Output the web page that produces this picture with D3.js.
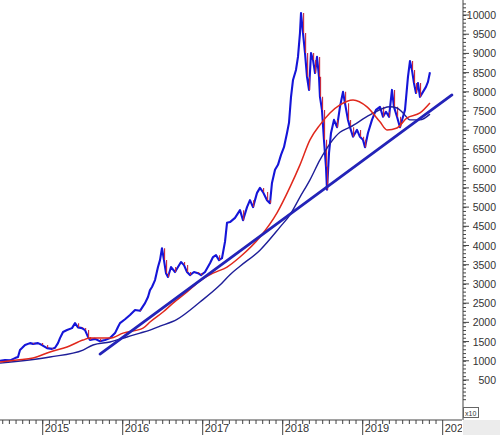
<!DOCTYPE html>
<html>
<head>
<meta charset="UTF-8">
<script src="https://cdn.jsdelivr.net/npm/d3@7"></script>
<style>
  body { margin: 0; background: #fff; }
  svg { display: block; font-family: Arial, "Liberation Sans", sans-serif; }
</style>
</head>
<body>
<div id="chart"></div>
<script>
// price, time as decimal year
var priceT = [2014.466,2014.529,2014.591,2014.654,2014.691,2014.716,2014.741,2014.779,2014.841,2014.879,
  2014.941,2014.991,2015.054,2015.116,2015.154,2015.191,2015.216,2015.254,2015.304,2015.366,
  2015.404,2015.441,2015.491,2015.529,2015.566,2015.591,2015.654,2015.716,2015.779,2015.841,
  2015.904,2015.941,2015.966,2016.029,2016.091,2016.154,2016.216,2016.279,2016.316,2016.341,
  2016.366,2016.404,2016.441,2016.466,2016.491,2016.516,2016.541,2016.566,2016.604,2016.654,
  2016.691,2016.729,2016.766,2016.804,2016.841,2016.891,2016.941,2016.979,2017.029,2017.091,
  2017.129,2017.166,2017.204,2017.241,2017.279,2017.304,2017.341,2017.404,2017.466,2017.504,
  2017.554,2017.591,2017.629,2017.679,2017.716,2017.754,2017.804,2017.841,2017.866,2017.904,
  2017.941,2017.979,2018.016,2018.054,2018.079,2018.104,2018.129,2018.166,2018.191,2018.216,
  2018.229,2018.254,2018.279,2018.304,2018.329,2018.354,2018.379,2018.404,2018.429,2018.454,
  2018.466,2018.491,2018.516,2018.541,2018.554,2018.579,2018.604,2018.641,2018.679,2018.716,
  2018.754,2018.779,2018.816,2018.841,2018.879,2018.929,2018.966,2019.004,2019.029,2019.066,
  2019.116,2019.166,2019.216,2019.254,2019.291,2019.329,2019.366,2019.391,2019.429,2019.466,
  2019.504,2019.529,2019.566,2019.591,2019.616,2019.641,2019.666,2019.691,2019.716,2019.754,
  2019.791,2019.816,2019.841];
var priceV = [1000,1020,1010,1070,1100,1280,1330,1410,1460,1440,
  1460,1410,1330,1310,1340,1460,1590,1750,1800,1850,
  1980,1870,1850,1800,1620,1540,1570,1510,1540,1590,
  1720,1880,1980,2080,2190,2320,2300,2500,2660,2840,
  2920,3100,3440,3620,3930,3620,3280,3180,3440,3310,
  3440,3570,3490,3310,3230,3310,3280,3230,3310,3540,
  3700,3750,3620,3670,4100,4590,4610,4720,4920,4660,
  5000,5180,5000,5370,5500,5390,5180,5100,5630,5970,
  6100,6360,6560,6930,7200,7870,8310,8570,8910,9530,
  10050,9530,9010,8390,8050,9010,8830,8490,8910,8390,
  7870,7530,6750,6050,5450,6410,6930,7270,7080,7610,
  8000,7700,7270,7080,6830,7010,6830,6750,6560,6930,
  7270,7530,7610,7350,7480,7350,8050,7610,7350,7080,
  7350,7530,8390,8800,8570,8230,7970,8230,7870,8000,
  8130,8260,8510];

// faster moving average (red)
var maFastT = [2014.466,2014.679,2014.879,2015.091,2015.304,2015.504,2015.591,2015.841,2016.004,2016.254,
  2016.341,2016.504,2016.629,2016.804,2016.966,2017.129,2017.304,2017.466,2017.716,2017.929,
  2018.091,2018.216,2018.341,2018.466,2018.591,2018.716,2018.879,2019.054,2019.216,2019.304,
  2019.429,2019.554,2019.716,2019.841];
var maFastV = [968,1020,1070,1230,1360,1540,1590,1590,1720,1850,
  2010,2270,2500,2790,3080,3280,3440,3700,4220,4850,
  5520,6100,6750,7140,7450,7660,7790,7610,7220,7010,
  7060,7320,7450,7710];

// slower moving average (navy)
var maSlowT = [2014.466,2015.091,2015.504,2015.629,2015.841,2016.054,2016.216,2016.341,2016.466,2016.679,
  2016.966,2017.216,2017.341,2017.466,2017.716,2017.966,2018.091,2018.216,2018.341,
  2018.466,2018.716,2018.841,2019.091,2019.341,2019.429,2019.504,2019.591,2019.716,2019.841];
var maSlowV = [940,1100,1280,1410,1490,1620,1720,1800,1900,2080,
  2530,2970,3240,3460,3880,4480,4800,5260,5710,
  6230,6950,7080,7400,7610,7580,7450,7270,7270,7420];

// support trend line
var trendT = [2015.716, 2020.116];
var trendV = [1176, 7918];

var yearTicks = [2015, 2016, 2017, 2018, 2019, 2020];
var valueTicks = [500,1000,1500,2000,2500,3000,3500,4000,4500,5000,5500,6000,6500,7000,7500,8000,8500,9000,9500,10000];

var W = 500, H = 435;
var axisX = 463, axisY = 420;

var svg = d3.select("#chart").append("svg")
    .attr("width", W).attr("height", H);

var x = d3.scaleLinear().domain([2014.466, 2020.254]).range([0, axisX]);
var y = d3.scaleLinear().domain([0, 10000]).range([399.2, 15]);

svg.append("defs").append("clipPath").attr("id", "plotclip")
  .append("rect").attr("x", 0).attr("y", 0).attr("width", axisX).attr("height", axisY);

var plot = svg.append("g").attr("clip-path", "url(#plotclip)");

var price = priceT.map(function (t, i) { return [t, priceV[i]]; });
var line = d3.line().x(function (d) { return x(d[0]); }).y(function (d) { return y(d[1]); });

plot.append("path").datum(price)
  .attr("fill", "none").attr("stroke", "#1515d8").attr("stroke-width", 2.1)
  .attr("stroke-linejoin", "round").attr("d", line);

// down moves tinted red like candle bodies
var downs = [];
price.forEach(function (d, i) { if (i > 0 && d[1] < priceV[i - 1]) downs.push([d[0], priceV[i - 1], d[1]]); });
plot.selectAll(".down").data(downs)
  .enter().append("line")
  .attr("x1", function (d) { return x(d[0]) + 0.6; })
  .attr("x2", function (d) { return x(d[0]) + 0.6; })
  .attr("y1", function (d) { return y(d[1]); })
  .attr("y2", function (d) { return y(d[2]); })
  .attr("stroke", "#c8283c").attr("stroke-width", 1.1);

var slow = maSlowT.map(function (t, i) { return [t, maSlowV[i]]; });
var fast = maFastT.map(function (t, i) { return [t, maFastV[i]]; });
var smooth = d3.line().curve(d3.curveMonotoneX)
  .x(function (d) { return x(d[0]); }).y(function (d) { return y(d[1]); });

plot.append("path").datum(slow)
  .attr("fill", "none").attr("stroke", "#1e1e98").attr("stroke-width", 1.4).attr("d", smooth);
plot.append("path").datum(fast)
  .attr("fill", "none").attr("stroke", "#e0281c").attr("stroke-width", 1.5).attr("d", smooth);

plot.append("path").datum(trendT.map(function (t, i) { return [t, trendV[i]]; }))
  .attr("fill", "none").attr("stroke", "#2323b8").attr("stroke-width", 2.8)
  .attr("stroke-linecap", "round").attr("d", line);

// right value axis
var ya = svg.append("g").attr("transform", "translate(" + axisX + ",0)");
ya.call(d3.axisRight(y).tickValues(d3.range(0, 10301, 100)).tickSize(3).tickFormat(""));
ya.select(".domain").remove();
ya.selectAll("line").attr("stroke", "#444");
ya.append("line").attr("x1", 0).attr("x2", 0).attr("y1", 0).attr("y2", axisY).attr("stroke", "#444");
ya.selectAll(".major").data(valueTicks).enter().append("line")
  .attr("x1", 0).attr("x2", 6).attr("y1", function (d) { return y(d); }).attr("y2", function (d) { return y(d); })
  .attr("stroke", "#444");
ya.selectAll(".lbl").data(valueTicks).enter().append("text")
  .attr("x", 33).attr("y", function (d) { return y(d) + 4; })
  .attr("text-anchor", "end").attr("font-size", "10.5px").attr("fill", "#333")
  .text(function (d) { return d; });

// bottom time axis
svg.append("rect").attr("x", axisX).attr("y", axisY).attr("width", W - axisX).attr("height", H - axisY)
  .attr("fill", "#ececec");
svg.append("defs").append("clipPath").attr("id", "axisclip")
  .append("rect").attr("x", 0).attr("y", axisY - 2).attr("width", axisX - 1).attr("height", 20);
var xa = svg.append("g").attr("clip-path", "url(#axisclip)");
xa.append("line").attr("x1", 0).attr("x2", axisX).attr("y1", axisY).attr("y2", axisY).attr("stroke", "#444");
var months = d3.range(6, 72).map(function (m) { return 2014 + m / 12; });
xa.selectAll(".mt").data(months).enter().append("line")
  .attr("x1", function (d) { return x(d); }).attr("x2", function (d) { return x(d); })
  .attr("y1", axisY).attr("y2", axisY + 4).attr("stroke", "#444");
xa.selectAll(".yt").data(yearTicks).enter().append("line")
  .attr("x1", function (d) { return x(d); }).attr("x2", function (d) { return x(d); })
  .attr("y1", axisY).attr("y2", H).attr("stroke", "#444");
xa.selectAll(".yl").data(yearTicks).enter().append("text")
  .attr("x", function (d) { return x(d) + 2; }).attr("y", 432)
  .attr("font-size", "11px").attr("fill", "#333")
  .text(function (d) { return d; });

// multiplier box
svg.append("rect").attr("x", axisX + 0.5).attr("y", 407.5).attr("width", 15).attr("height", 10)
  .attr("fill", "#fff").attr("stroke", "#666");
svg.append("text").attr("x", axisX + 2).attr("y", 415.5).attr("font-size", "7px").attr("fill", "#333").text("x10");
</script>
</body>
</html>
